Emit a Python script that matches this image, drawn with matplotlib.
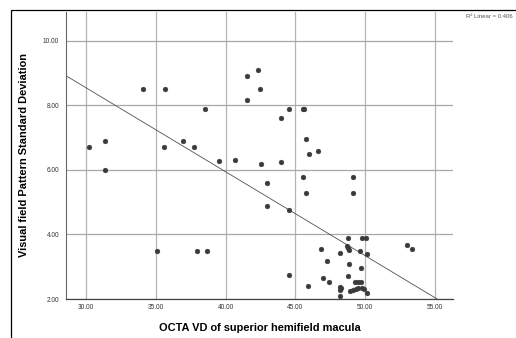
import numpy as np
import matplotlib
matplotlib.use("Agg")
import matplotlib.pyplot as plt
from matplotlib.patches import Rectangle

plt.rcParams['font.family'] = ['Liberation Sans', 'DejaVu Sans']

# OCTA VD (superior hemifield macula) vs visual field PSD
octa_vd = [30.19, 31.38, 31.38, 34.06, 35.68, 35.56, 35.06, 36.97, 37.76, 37.95,
           38.55, 38.64, 39.55, 40.65, 41.55, 41.55, 42.34, 42.44, 42.54, 42.94,
           42.94, 43.95, 43.95, 44.54, 44.54, 44.54, 45.55, 45.65, 45.74, 45.95,
           46.64, 45.53, 45.74, 45.92, 46.83, 47.24, 46.95, 47.43, 48.20, 48.20,
           48.27, 48.22, 48.20, 48.75, 48.72, 48.75, 48.84, 48.84, 48.75, 48.91,
           49.15, 49.32, 49.51, 49.75, 49.94, 50.10, 49.27, 49.50, 49.72, 49.70,
           49.60, 49.15, 49.15, 49.79, 50.03, 50.13, 52.97, 53.33]
psd = [6.69, 6.90, 6.00, 8.50, 8.50, 6.69, 3.48, 6.90, 6.69, 3.48,
       7.89, 3.48, 6.27, 6.30, 8.90, 8.15, 9.10, 8.50, 6.19, 5.59,
       4.89, 7.59, 6.24, 7.89, 4.74, 2.74, 7.89, 7.89, 6.95, 6.49,
       6.59, 5.79, 5.29, 2.41, 3.54, 3.19, 2.64, 2.54, 3.41, 2.38,
       2.33, 2.27, 2.10, 3.88, 3.65, 3.57, 3.52, 3.08, 2.72, 2.25,
       2.27, 2.31, 2.33, 2.33, 2.30, 2.20, 2.54, 2.54, 2.54, 2.97,
       3.48, 5.79, 5.29, 3.88, 3.88, 3.38, 3.68, 3.54]
x_ticks = [30, 35, 40, 45, 50, 55]
y_ticks = [2, 4, 6, 8, 10]
r2_text = "R² Linear = 0.406"

# linear fit line as shown on the chart
fit_intercept = 16.34
fit_slope = -0.26

x = np.array(octa_vd)
y = np.array(psd)

fig = plt.figure(figsize=(5.16, 3.38), dpi=100)
ax = fig.add_axes([66 / 516, 1 - 299 / 338, (453 - 66) / 516, (299 - 11.5) / 338])

ax.set_xlim(28.57, 56.29)
ax.set_ylim(2.0, 10.9)

for xt in x_ticks:
    ax.axvline(xt, color='#b4b4b4', lw=0.9, zorder=0)
for yt in y_ticks:
    ax.axhline(yt, color='#a8a8a8', lw=0.9, zorder=0)

ax.scatter(x, y, s=12, color='#3a3a3a', edgecolors='#3a3a3a', linewidths=0.3, zorder=3)

xx = np.array(ax.get_xlim())
ax.plot(xx, fit_intercept + fit_slope * xx, color='#505050', lw=0.6, zorder=2)

ax.set_xticks(x_ticks)
ax.set_xticklabels([f"{v:.2f}" for v in x_ticks], fontsize=4.7, color='#333333')
ax.set_yticks(y_ticks)
ax.set_yticklabels([f"{v:.2f}" for v in y_ticks], fontsize=4.7, color='#333333')
ax.tick_params(length=0)
ax.tick_params(axis='y', pad=5)
ax.tick_params(axis='x', pad=3.5)

ax.spines['top'].set_visible(False)
ax.spines['right'].set_visible(False)
ax.spines['left'].set_color('#666666')
ax.spines['bottom'].set_color('#444444')
ax.spines['left'].set_linewidth(0.8)
ax.spines['bottom'].set_linewidth(0.9)

ax.set_xlabel("OCTA VD of superior hemifield macula", fontsize=7.9, fontweight='bold', labelpad=9)
ax.set_ylabel("Visual field Pattern Standard Deviation", fontsize=7.9, fontweight='bold', labelpad=10)

fig.text(513 / 516, 1 - 17 / 338, r2_text, fontsize=4.3, color='#555555', ha='right', va='center')

# outer frame
fig.patches.append(Rectangle((11 / 516, -0.1), 1.2, 1 - 10 / 338 + 0.1, transform=fig.transFigure,
                             fill=False, edgecolor='black', lw=0.9))

fig.savefig("out.png", dpi=100)
